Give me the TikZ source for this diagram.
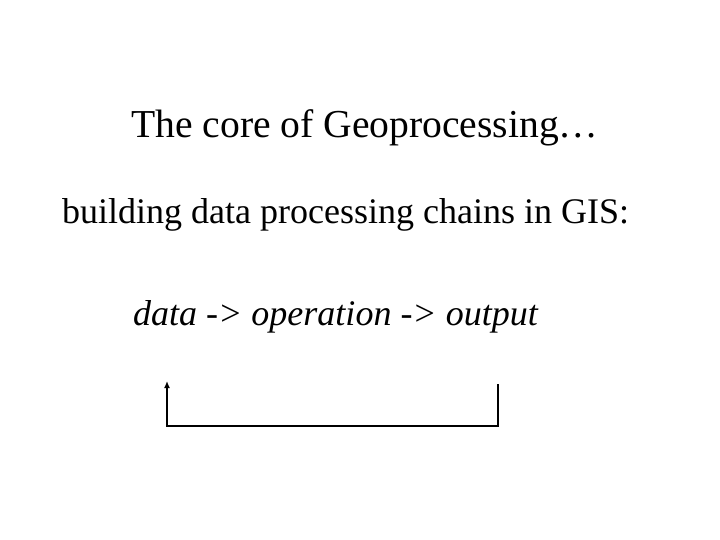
\documentclass[tikz,border=0pt]{standalone}
\usepackage{fontspec}
\setmainfont{Liberation Serif}
\usetikzlibrary{arrows.meta, positioning}

\begin{document}
\begin{tikzpicture}[x=1pt, y=-1pt, >={Latex[length=7pt, width=6pt]}]
    \tikzset{
        heading/.style={anchor=base west, inner sep=0pt, font=\fontsize{39.6}{44}\selectfont},
        textline/.style={anchor=base west, inner sep=0pt, font=\fontsize{36}{40}\selectfont},
        loop/.style={draw, ->, line width=1.5pt}
    }
    \useasboundingbox (0,0) rectangle (720,540);

    \node (Title) [heading] at (131,138) {The core of Geoprocessing\ldots};
    \node (Chains) [textline] at (62,223) {building data processing chains in GIS:};
    \node (Chain) [textline, font=\fontsize{36}{40}\selectfont\itshape] at (133,325) {data -> operation -> output};

    \coordinate (FromOutput) at (498,384);
    \coordinate (ToData) at (167,381);

    \path [loop] (FromOutput) -- ++(0,42) -| (ToData);

\end{tikzpicture}
\end{document}
